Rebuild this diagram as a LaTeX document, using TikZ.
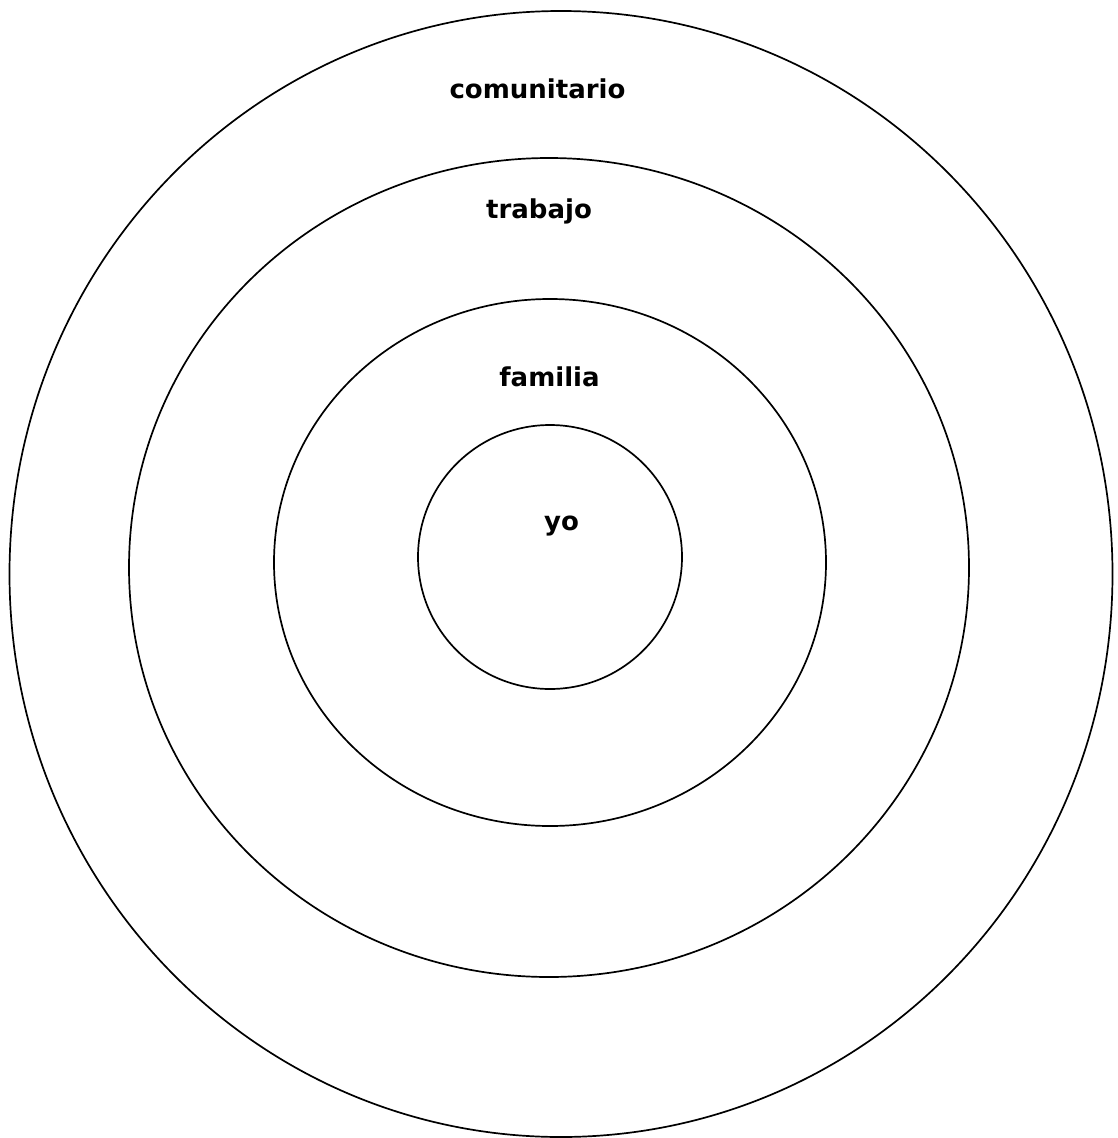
\documentclass[tikz,border=0pt]{standalone}
\usepackage{fontspec}
\setmainfont{DejaVu Sans}
\begin{document}
\begin{tikzpicture}[x=1pt,y=-1pt,
  ring/.style={draw=black,line width=1.7pt},
  lbl/.style={anchor=base,inner sep=0pt,font=\fontsize{26}{30}\selectfont\bfseries}]
\useasboundingbox (0,0) rectangle (1117,1138);
\fill[white] (0,0) rectangle (1117,1138);
\coordinate (c1) at (561,574);
\coordinate (c2) at (549,567.5);
\coordinate (c3) at (550,562.5);
\coordinate (c4) at (550,557);
\draw[ring] (c1) ellipse [x radius=551.5pt, y radius=563pt];
\draw[ring] (c2) ellipse [x radius=420pt, y radius=409.5pt];
\draw[ring] (c3) ellipse [x radius=276pt, y radius=263.5pt];
\draw[ring] (c4) ellipse [x radius=132pt, y radius=132pt];
\node[lbl] (comunitario) at (537.5,98) {comunitario};
\node[lbl] (trabajo) at (539,218) {trabajo};
\node[lbl] (familia) at (549.5,386) {familia};
\node[lbl] (yo) at (561.5,530) {yo};
\end{tikzpicture}
\end{document}
